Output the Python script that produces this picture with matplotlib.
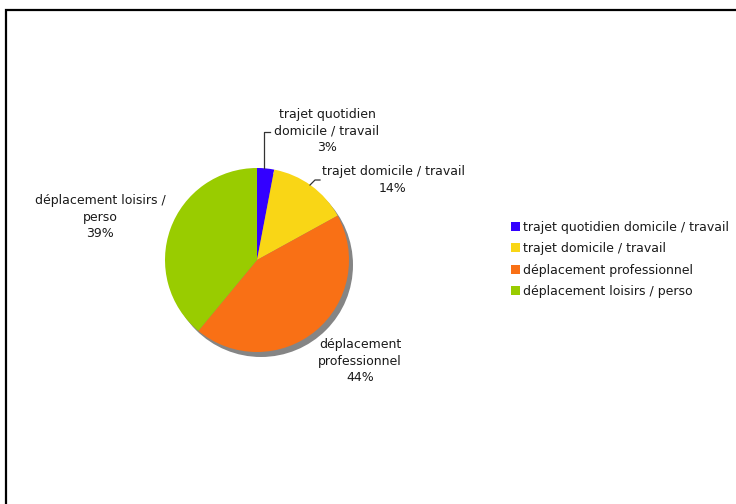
import matplotlib
matplotlib.use("Agg")
import matplotlib.pyplot as plt
from matplotlib.patches import Circle, Rectangle
from matplotlib.lines import Line2D

categories = [
    "trajet quotidien domicile / travail",
    "trajet domicile / travail",
    "déplacement professionnel",
    "déplacement loisirs / perso",
]
values = [3, 14, 44, 39]
slice_labels = [
    "trajet quotidien\ndomicile / travail",
    "trajet domicile / travail",
    "déplacement\nprofessionnel",
    "déplacement loisirs /\nperso",
]
colors = ["#3300FF", "#F9D616", "#F97015", "#99CC00"]

W, H = 736, 504
fig = plt.figure(figsize=(W / 100, H / 100), dpi=100)
ax = fig.add_axes([0, 0, 1, 1])

# outer frame (runs off the right and bottom edges)
ax.add_patch(Rectangle((6, -20), W + 40, H - 10 + 20, fill=False,
                       edgecolor="black", linewidth=1.6, zorder=1))

cx, cy, r = 257, H - 260, 92
# drop shadow
ax.add_patch(Circle((cx + 4, cy - 5), r, facecolor="#858585",
                    edgecolor="none", zorder=2))
wedges, _ = ax.pie(values, colors=colors, startangle=90, counterclock=False,
                   center=(cx, cy), radius=r, frame=True,
                   wedgeprops=dict(linewidth=0))
for w in wedges:
    w.set_zorder(3)
ax.set_xlim(0, W)
ax.set_ylim(0, H)
ax.set_aspect("equal")
ax.axis("off")

fs = 9.0
tc = "#1a1a1a"
label_pos = [(327, 131), (393, 180), (360, 361), (100, 217)]
for lab, v, (x, y) in zip(slice_labels, values, label_pos):
    ax.text(x, H - y, f"{lab}\n{v}%", ha="center", va="center",
            fontsize=fs, color=tc, linespacing=1.36, zorder=5)

# leader lines for the two small slices
ax.add_line(Line2D([264, 264, 270], [H - 168, H - 132, H - 132],
                   color="#333333", linewidth=0.9, zorder=4))
ax.add_line(Line2D([310, 315, 320], [H - 185, H - 180, H - 180],
                   color="#333333", linewidth=0.9, zorder=4))

leg = ax.legend(wedges, categories, loc="upper left",
                bbox_to_anchor=(502 / W, 1 - 212 / H), frameon=False,
                fontsize=fs, handlelength=0.75, handleheight=0.75,
                handletextpad=0.2, labelspacing=0.68, borderpad=0.2)
for t in leg.get_texts():
    t.set_color(tc)

fig.savefig("out.png", dpi=100)
